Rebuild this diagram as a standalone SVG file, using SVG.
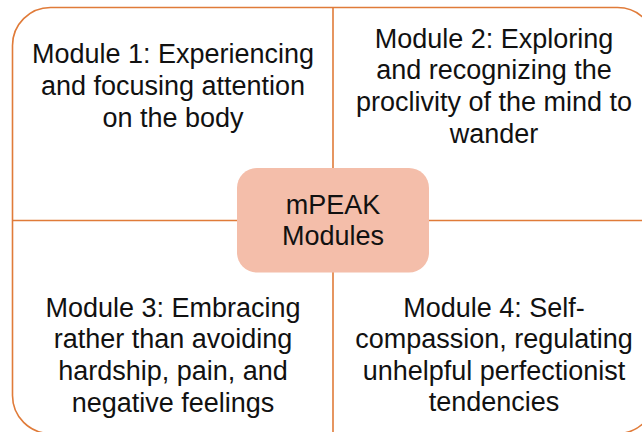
<svg xmlns="http://www.w3.org/2000/svg" width="642" height="432" viewBox="0 0 642 432">
<style>
.t{font-family:"Liberation Sans",Arial,sans-serif;font-size:27px;fill:#111;text-anchor:middle}
.ln{stroke:#E07B39;stroke-width:1.6;fill:none}
</style>
<rect width="642" height="432" fill="#fff"/>
<g id="frame"><rect class="ln" x="12.5" y="7.5" width="643" height="426" rx="38"/></g>
<g id="connectors">
<line class="ln" x1="12.5" y1="220.5" x2="655.5" y2="220.5"/>
<line class="ln" x1="333" y1="7.5" x2="333" y2="433.5"/>
</g>
<g id="module1">
<text class="t" x="173" y="63">Module 1: Experiencing</text>
<text class="t" x="173" y="95">and focusing attention</text>
<text class="t" x="173" y="127">on the body</text>
</g>
<g id="module2">
<text class="t" x="494" y="47.5">Module 2: Exploring</text>
<text class="t" x="494" y="79">and recognizing the</text>
<text class="t" x="494" y="111">proclivity of the mind to</text>
<text class="t" x="494" y="142.5">wander</text>
</g>
<g id="module3">
<text class="t" x="173" y="316.5">Module 3: Embracing</text>
<text class="t" x="173" y="348">rather than avoiding</text>
<text class="t" x="173" y="380">hardship, pain, and</text>
<text class="t" x="173" y="411.5">negative feelings</text>
</g>
<g id="module4">
<text class="t" x="494" y="316.5">Module 4: Self-</text>
<text class="t" x="494" y="348">compassion, regulating</text>
<text class="t" x="494" y="380">unhelpful perfectionist</text>
<text class="t" x="494" y="411">tendencies</text>
</g>
<g id="center">
<rect x="237" y="168" width="192" height="104.5" rx="20" fill="#F4BEAA"/>
<text class="t" x="333" y="213.5">mPEAK</text>
<text class="t" x="333" y="245">Modules</text>
</g>
</svg>
